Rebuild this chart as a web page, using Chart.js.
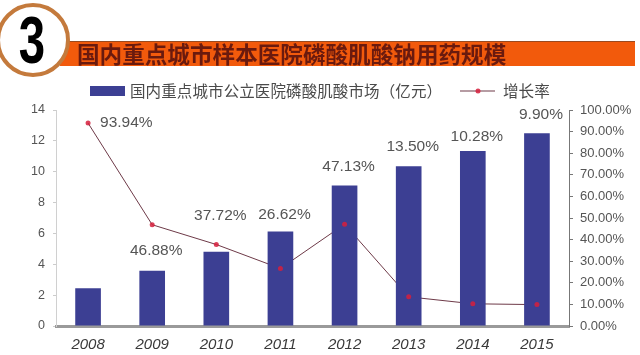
<!DOCTYPE html>
<html>
<head>
<meta charset="utf-8">
<script src="https://cdn.jsdelivr.net/npm/chart.js@4.4.1/dist/chart.umd.min.js"></script>
<style>
  html, body { margin: 0; padding: 0; background: #fff; }
  #wrap { width: 640px; height: 355px; position: relative; }
</style>
</head>
<body>
<div id="wrap"><canvas id="c" width="640" height="355"></canvas></div>
<script>
const titleText = '国内重点城市样本医院磷酸肌酸钠用药规模';
const badgeText = '3';
const categories = ['2008', '2009', '2010', '2011', '2012', '2013', '2014', '2015'];
const marketLabel = '国内重点城市公立医院磷酸肌酸市场（亿元）';
const marketValues = [2.45, 3.58, 4.82, 6.12, 9.1, 10.35, 11.35, 12.5];
const growthLabel = '增长率';
const growthValues = [93.94, 46.88, 37.72, 26.62, 47.13, 13.50, 10.28, 9.90];
const leftTicks = [0, 2, 4, 6, 8, 10, 12, 14];
const rightTicks = [0, 10, 20, 30, 40, 50, 60, 70, 80, 90, 100];

const BAR = '#3c3f93';
const LINE = '#6e3a48';
const DOT = 'rgba(214,30,60,0.85)';
const NUMFONT = '"Liberation Sans", Arial, sans-serif';
const CJK = '"Noto Sans CJK SC", "Noto Sans", sans-serif';

function spacedText(ctx, text, x, y, targetWidth) {
  const chars = Array.from(text);
  const w = ctx.measureText(text).width;
  const extra = (targetWidth - w) / Math.max(1, chars.length - 1);
  let cx = x;
  chars.forEach(ch => {
    ctx.fillText(ch, cx, y);
    cx += ctx.measureText(ch).width + extra;
  });
}

const decor = {
  id: 'decor',
  beforeDraw(chart) {
    const ctx = chart.ctx;
    ctx.save();
    ctx.fillStyle = '#fff';
    ctx.fillRect(0, 0, chart.width, chart.height);
    // banner
    ctx.fillStyle = '#f25a0c';
    ctx.fillRect(60, 41, 575, 25);
    ctx.fillStyle = '#9a4a20';
    ctx.fillRect(60, 41, 575, 1);
    // circle badge
    ctx.beginPath();
    ctx.arc(33, 40, 35, 0, Math.PI * 2);
    ctx.fillStyle = '#fff';
    ctx.fill();
    ctx.lineWidth = 4;
    ctx.strokeStyle = '#c47a3c';
    ctx.stroke();
    // big 3
    ctx.save();
    ctx.translate(32, 44);
    ctx.scale(0.74, 1.05);
    ctx.fillStyle = '#000';
    ctx.font = '900 64px "Liberation Sans", Arial, sans-serif';
    ctx.textAlign = 'center';
    ctx.textBaseline = 'middle';
    ctx.fillText(badgeText, 0, 0);
    ctx.restore();
    // title
    ctx.fillStyle = '#6a1a0e';
    ctx.font = 'bold 22.6px ' + CJK;
    ctx.textAlign = 'left';
    ctx.textBaseline = 'middle';
    ctx.fillText(titleText, 77, 54);
    // legend
    ctx.fillStyle = BAR;
    ctx.fillRect(90, 86, 35, 10);
    ctx.fillStyle = '#4a4a4a';
    ctx.font = '15.5px ' + CJK;
    spacedText(ctx, marketLabel, 130, 91, 312);
    ctx.strokeStyle = LINE;
    ctx.lineWidth = 1.2;
    ctx.beginPath();
    ctx.moveTo(460, 91);
    ctx.lineTo(495, 91);
    ctx.stroke();
    ctx.beginPath();
    ctx.arc(478, 91, 2.5, 0, Math.PI * 2);
    ctx.fillStyle = DOT;
    ctx.fill();
    ctx.fillStyle = '#4a4a4a';
    ctx.font = '15.6px ' + CJK;
    ctx.fillText(growthLabel, 503, 91);
    ctx.restore();
  },
  afterDatasetsDraw(chart) {
    const ctx = chart.ctx;
    const bars = chart.getDatasetMeta(0).data;
    const pts = chart.getDatasetMeta(1).data;
    const offs = [0, -20, -36, -17, -19, -20, -14, -18];
    ctx.save();
    ctx.fillStyle = '#555';
    ctx.font = '15.5px ' + NUMFONT;
    ctx.textBaseline = 'middle';
    growthValues.forEach((v, i) => {
      const t = v.toFixed(2) + '%';
      if (i === 0) {
        ctx.textAlign = 'left';
        ctx.fillText(t, pts[i].x + 12, pts[i].y);
      } else {
        ctx.textAlign = 'center';
        ctx.fillText(t, bars[i].x + 4, bars[i].y + offs[i]);
      }
    });
    ctx.restore();
  }
};

new Chart(document.getElementById('c'), {
  type: 'bar',
  data: {
    labels: categories,
    datasets: [
      {
        type: 'bar',
        label: marketLabel,
        data: marketValues,
        backgroundColor: BAR,
        yAxisID: 'y',
        barPercentage: 0.4,
        categoryPercentage: 1,
        order: 2
      },
      {
        type: 'line',
        label: growthLabel,
        data: growthValues,
        borderColor: LINE,
        borderWidth: 1,
        pointRadius: 0,
        yAxisID: 'y1',
        tension: 0,
        order: 3
      },
      {
        type: 'line',
        label: growthLabel + ' ',
        data: growthValues,
        showLine: false,
        pointRadius: 2.5,
        pointBackgroundColor: DOT,
        pointBorderWidth: 0,
        yAxisID: 'y1',
        order: 1
      }
    ]
  },
  options: {
    responsive: false,
    animation: false,
    layout: { padding: { top: 110, left: 0, right: 0, bottom: 0 } },
    plugins: { legend: { display: false }, title: { display: false }, tooltip: { enabled: false } },
    scales: {
      x: {
        grid: { display: false, drawTicks: false },
        border: { display: true, color: '#9a9a9a', width: 3 },
        ticks: { color: '#3a3a3a', font: { family: NUMFONT, size: 15, style: 'italic' }, padding: 10 },
        afterFit(s) { s.height = 29; }
      },
      y: {
        position: 'left',
        min: 0, max: 14,
        afterBuildTicks(s) { s.ticks = leftTicks.map(v => ({ value: v })); },
        grid: { drawOnChartArea: false, drawTicks: true, tickLength: 3, color: '#ccc' },
        border: { display: true, color: '#d0d0d0', width: 1 },
        ticks: { color: '#555', font: { family: NUMFONT, size: 12.5 }, padding: 8 },
        afterFit(s) { s.width = 56; }
      },
      y1: {
        position: 'right',
        min: 0, max: 100,
        afterBuildTicks(s) { s.ticks = rightTicks.map(v => ({ value: v })); },
        grid: { drawOnChartArea: false, drawTicks: true, tickLength: 4, color: '#777' },
        border: { display: true, color: '#777', width: 1 },
        ticks: { color: '#555', font: { family: NUMFONT, size: 13 }, padding: 7,
                 callback: v => Number(v).toFixed(2) + '%' },
        afterFit(s) { s.width = 71; }
      }
    }
  },
  plugins: [decor]
});
</script>
</body>
</html>
